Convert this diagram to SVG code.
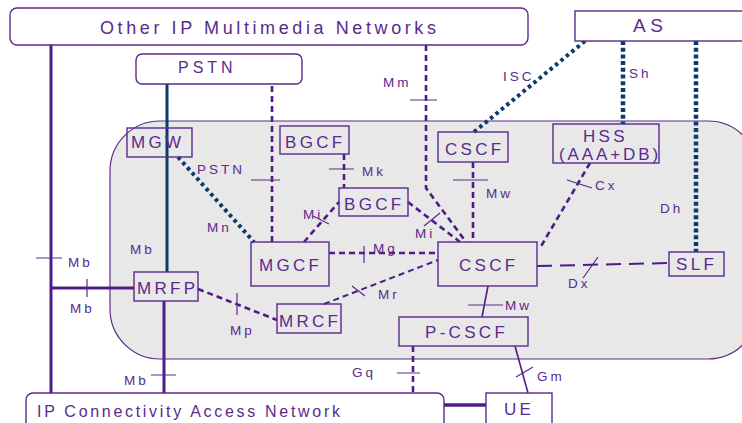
<svg xmlns="http://www.w3.org/2000/svg" width="742" height="423" viewBox="0 0 742 423">
<defs>
<style>
.box{fill:none;stroke:#5a2a8e;stroke-width:1.4}
.wbox{fill:#ffffff;stroke:#5a2a8e;stroke-width:1.4}
.nt{font-family:"Liberation Sans",Arial,sans-serif;font-size:17px;letter-spacing:3.3px;fill:#5a2a8e}
.bt{font-family:"Liberation Sans",Arial,sans-serif;font-size:18px;letter-spacing:3.6px;fill:#5a2a8e}
.et{font-family:"Liberation Sans",Arial,sans-serif;font-size:13.5px;letter-spacing:3px;fill:#5a2a8e}
.thick{fill:none;stroke:#4f1c87;stroke-width:3}
.dash{fill:none;stroke:#4f1c87;stroke-width:2.6;stroke-dasharray:6 4}
.ldash{fill:none;stroke:#4f1c87;stroke-width:2;stroke-dasharray:15 8}
.thin{fill:none;stroke:#4f1c87;stroke-width:1.6}
.tick{fill:none;stroke:#5a2a8e;stroke-width:1.2}
.dots{fill:none;stroke:#0b3a6b;stroke-width:4;stroke-dasharray:3.5 3.5}
.vdots{fill:none;stroke:#0b3a6b;stroke-width:4.5;stroke-dasharray:4 2.7}
.blue{fill:none;stroke:#0b3a6b;stroke-width:3}
</style>
</defs>
<rect width="742" height="423" fill="#ffffff"/>
<g id="ims-domain">
<rect x="110" y="121" width="648" height="238" rx="50" fill="#e8e8e8" stroke="#5a2a8e" stroke-width="1.2"/>
</g>
<g id="connectors">
<path class="thick" d="M51 45 V393"/>
<path class="thick" d="M51 288 H134"/>
<path class="thick" d="M164 301 V393"/>
<path class="thick" d="M444 405 H486" style="stroke-width:3.5"/>
<path class="blue" d="M167 84 V272"/>
<path class="dash" d="M272 86 V242"/>
<path class="dots" d="M178 157 L254 242"/>
<path class="dash" d="M344 154 V188"/>
<path class="dash" d="M304 242 L339 202"/>
<path class="dash" d="M329 253 H438"/>
<path class="dash" d="M324 304 L438 260" style="stroke-width:2"/>
<path class="dash" d="M198 289 L277 320"/>
<path class="dash" d="M426 45 V188 L466 242"/>
<path class="dash" d="M408 202 L460 242"/>
<path class="dash" d="M473 162 V242"/>
<path class="dots" d="M585 41 L474 132"/>
<path class="vdots" d="M623 41 V124"/>
<path class="vdots" d="M696 41 V252"/>
<path class="dash" d="M590 163 L540 248"/>
<path class="ldash" d="M537 266 L669 263"/>
<path class="thin" d="M488 286 L482 317"/>
<path class="dash" d="M413 346 V393"/>
<path class="thin" d="M515 346 L528 393"/>
<path class="tick" d="M36 258 H62 M87 279 V297 M151 375 H176 M251 180 H280 M329 169 H354 M313 216 L329 224 M364 246 V263 M352 286 L365 296 M237 293 V315 M410 100 H437 M424 226 L440 213 M453 180 H488 M567 180 L592 188 M583 278 L598 257 M468 305 H503 M397 373 H420 M516 377 L533 367"/>
<text class="et" x="68" y="267">Mb</text>
<text class="et" x="70" y="313">Mb</text>
<text class="et" x="124" y="385">Mb</text>
<text class="et" x="130" y="254">Mb</text>
<text class="et" x="197" y="174">PSTN</text>
<text class="et" x="207" y="232">Mn</text>
<text class="et" x="362" y="176">Mk</text>
<text class="et" x="303" y="219">Mi</text>
<text class="et" x="373" y="253">Mg</text>
<text class="et" x="378" y="299">Mr</text>
<text class="et" x="230" y="335">Mp</text>
<text class="et" x="383" y="87">Mm</text>
<text class="et" x="503" y="81">ISC</text>
<text class="et" x="629" y="78">Sh</text>
<text class="et" x="660" y="213">Dh</text>
<text class="et" x="486" y="198">Mw</text>
<text class="et" x="415" y="238">Mi</text>
<text class="et" x="595" y="190">Cx</text>
<text class="et" x="568" y="288">Dx</text>
<text class="et" x="505" y="310">Mw</text>
<text class="et" x="352" y="377">Gq</text>
<text class="et" x="537" y="381">Gm</text>
</g>
<g id="other-ip">
<rect class="wbox" x="10" y="8" width="518" height="37" rx="7"/>
<text class="bt" x="100" y="34">Other IP Multimedia Networks</text>
</g>
<g id="as">
<rect class="wbox" x="575" y="11" width="175" height="30"/>
<text class="nt" x="633" y="32" style="font-size:19px;letter-spacing:4.5px">AS</text>
</g>
<g id="pstn">
<rect class="wbox" x="136" y="54" width="166" height="30" rx="6"/>
<text class="nt" x="178" y="73" style="font-size:16px;letter-spacing:4px">PSTN</text>
</g>
<g id="mgw">
<rect class="box" x="127" y="128" width="65" height="29"/>
<text class="nt" x="131" y="148">MGW</text>
</g>
<g id="bgcf1">
<rect class="box" x="280" y="126" width="69" height="28"/>
<text class="nt" x="285" y="148">BGCF</text>
</g>
<g id="bgcf2">
<rect class="box" x="339" y="188" width="69" height="28"/>
<text class="nt" x="344" y="210">BGCF</text>
</g>
<g id="mgcf">
<rect class="box" x="251" y="242" width="78" height="44"/>
<text class="nt" x="259" y="271">MGCF</text>
</g>
<g id="cscf">
<rect class="box" x="438" y="242" width="99" height="44"/>
<text class="nt" x="459" y="271">CSCF</text>
</g>
<g id="cscf-top">
<rect class="box" x="438" y="132" width="70" height="30"/>
<text class="nt" x="445" y="155">CSCF</text>
</g>
<g id="hss">
<rect class="box" x="553" y="124" width="106" height="39"/>
<text class="nt" x="583" y="142">HSS</text>
<text class="nt" x="559" y="160" style="letter-spacing:2.9px">(AAA+DB)</text>
</g>
<g id="slf">
<rect class="box" x="669" y="252" width="55" height="24"/>
<text class="nt" x="676" y="270">SLF</text>
</g>
<g id="mrfp">
<rect class="box" x="134" y="272" width="64" height="29"/>
<text class="nt" x="137" y="294">MRFP</text>
</g>
<g id="mrcf">
<rect class="box" x="277" y="304" width="64" height="29"/>
<text class="nt" x="279" y="327">MRCF</text>
</g>
<g id="p-cscf">
<rect class="box" x="399" y="317" width="129" height="29"/>
<text class="nt" x="425" y="338">P-CSCF</text>
</g>
<g id="ip-can">
<rect class="wbox" x="26" y="393" width="418" height="40" rx="7"/>
<text class="bt" x="37" y="417" style="font-size:16px;letter-spacing:2.7px">IP Connectivity Access Network</text>
</g>
<g id="ue">
<rect class="wbox" x="486" y="393" width="66" height="40"/>
<text class="nt" x="504" y="415">UE</text>
</g>
</svg>
